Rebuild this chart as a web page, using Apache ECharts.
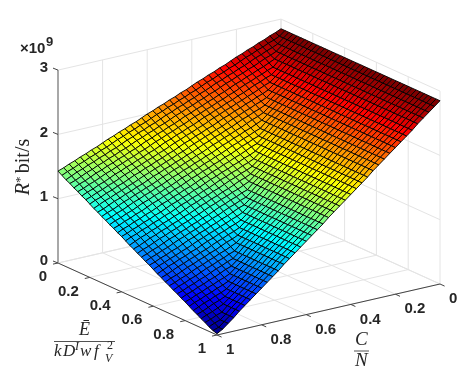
<!DOCTYPE html>
<html>
<head>
<meta charset="utf-8">
<style>html,body{margin:0;padding:0;background:#fff}#chart{width:463px;height:376px}</style>
<script src="https://cdn.jsdelivr.net/npm/echarts@6/dist/echarts.min.js"></script>
</head>
<body>
<div id="chart"></div>
<script>
// tick values and labels
const cTicks = [0, 0.2, 0.4, 0.6, 0.8, 1]
const eTicks = [0, 0.2, 0.4, 0.6, 0.8, 1]
const zTicks = [0, 1, 2, 3]

// R*, in units of 1e7 bit/s
// one row per E step (0..1 in 40 steps), one column per C/N step (0..1 in 40 steps)
const rateRows = [
[285,281,278,274,271,267,264,260,257,253,249,246,242,239,235,232,228,224,221,217,214,210,207,203,200,196,192,189,185,182,178,175,171,167,164,160,157,153,150,146,143],
[285,278,274,271,267,264,260,257,253,249,246,242,239,235,232,228,224,221,217,214,210,207,203,200,196,192,189,185,182,178,175,171,167,164,160,157,153,150,146,143,139],
[285,278,271,267,264,260,257,253,249,246,242,239,235,232,228,224,221,217,214,210,207,203,200,196,192,189,185,182,178,175,171,167,164,160,157,153,150,146,143,139,135],
[285,278,271,264,260,257,253,249,246,242,239,235,232,228,224,221,217,214,210,207,203,200,196,192,189,185,182,178,175,171,167,164,160,157,153,150,146,143,139,135,132],
[285,278,271,264,257,253,249,246,242,239,235,232,228,224,221,217,214,210,207,203,200,196,192,189,185,182,178,175,171,167,164,160,157,153,150,146,143,139,135,132,128],
[285,278,271,264,257,249,246,242,239,235,232,228,224,221,217,214,210,207,203,200,196,192,189,185,182,178,175,171,167,164,160,157,153,150,146,143,139,135,132,128,125],
[285,278,271,264,257,249,242,239,235,232,228,224,221,217,214,210,207,203,200,196,192,189,185,182,178,175,171,167,164,160,157,153,150,146,143,139,135,132,128,125,121],
[285,278,271,264,257,249,242,235,232,228,224,221,217,214,210,207,203,200,196,192,189,185,182,178,175,171,167,164,160,157,153,150,146,143,139,135,132,128,125,121,118],
[285,278,271,264,257,249,242,235,228,224,221,217,214,210,207,203,200,196,192,189,185,182,178,175,171,167,164,160,157,153,150,146,143,139,135,132,128,125,121,118,114],
[285,278,271,264,257,249,242,235,228,221,217,214,210,207,203,200,196,192,189,185,182,178,175,171,167,164,160,157,153,150,146,143,139,135,132,128,125,121,118,114,110],
[285,278,271,264,257,249,242,235,228,221,214,210,207,203,200,196,192,189,185,182,178,175,171,167,164,160,157,153,150,146,143,139,135,132,128,125,121,118,114,110,107],
[285,278,271,264,257,249,242,235,228,221,214,207,203,200,196,192,189,185,182,178,175,171,167,164,160,157,153,150,146,143,139,135,132,128,125,121,118,114,110,107,103],
[285,278,271,264,257,249,242,235,228,221,214,207,200,196,192,189,185,182,178,175,171,167,164,160,157,153,150,146,143,139,135,132,128,125,121,118,114,110,107,103,100],
[285,278,271,264,257,249,242,235,228,221,214,207,200,192,189,185,182,178,175,171,167,164,160,157,153,150,146,143,139,135,132,128,125,121,118,114,110,107,103,100,96],
[285,278,271,264,257,249,242,235,228,221,214,207,200,192,185,182,178,175,171,167,164,160,157,153,150,146,143,139,135,132,128,125,121,118,114,110,107,103,100,96,93],
[285,278,271,264,257,249,242,235,228,221,214,207,200,192,185,178,175,171,167,164,160,157,153,150,146,143,139,135,132,128,125,121,118,114,110,107,103,100,96,93,89],
[285,278,271,264,257,249,242,235,228,221,214,207,200,192,185,178,171,167,164,160,157,153,150,146,143,139,135,132,128,125,121,118,114,110,107,103,100,96,93,89,86],
[285,278,271,264,257,249,242,235,228,221,214,207,200,192,185,178,171,164,160,157,153,150,146,143,139,135,132,128,125,121,118,114,110,107,103,100,96,93,89,86,82],
[285,278,271,264,257,249,242,235,228,221,214,207,200,192,185,178,171,164,157,153,150,146,143,139,135,132,128,125,121,118,114,110,107,103,100,96,93,89,86,82,78],
[285,278,271,264,257,249,242,235,228,221,214,207,200,192,185,178,171,164,157,150,146,143,139,135,132,128,125,121,118,114,110,107,103,100,96,93,89,86,82,78,75],
[285,278,271,264,257,249,242,235,228,221,214,207,200,192,185,178,171,164,157,150,143,139,135,132,128,125,121,118,114,110,107,103,100,96,93,89,86,82,78,75,71],
[285,278,271,264,257,249,242,235,228,221,214,207,200,192,185,178,171,164,157,150,143,135,132,128,125,121,118,114,110,107,103,100,96,93,89,86,82,78,75,71,68],
[285,278,271,264,257,249,242,235,228,221,214,207,200,192,185,178,171,164,157,150,143,135,128,125,121,118,114,110,107,103,100,96,93,89,86,82,78,75,71,68,64],
[285,278,271,264,257,249,242,235,228,221,214,207,200,192,185,178,171,164,157,150,143,135,128,121,118,114,110,107,103,100,96,93,89,86,82,78,75,71,68,64,61],
[285,278,271,264,257,249,242,235,228,221,214,207,200,192,185,178,171,164,157,150,143,135,128,121,114,110,107,103,100,96,93,89,86,82,78,75,71,68,64,61,57],
[285,278,271,264,257,249,242,235,228,221,214,207,200,192,185,178,171,164,157,150,143,135,128,121,114,107,103,100,96,93,89,86,82,78,75,71,68,64,61,57,53],
[285,278,271,264,257,249,242,235,228,221,214,207,200,192,185,178,171,164,157,150,143,135,128,121,114,107,100,96,93,89,86,82,78,75,71,68,64,61,57,53,50],
[285,278,271,264,257,249,242,235,228,221,214,207,200,192,185,178,171,164,157,150,143,135,128,121,114,107,100,93,89,86,82,78,75,71,68,64,61,57,53,50,46],
[285,278,271,264,257,249,242,235,228,221,214,207,200,192,185,178,171,164,157,150,143,135,128,121,114,107,100,93,86,82,78,75,71,68,64,61,57,53,50,46,43],
[285,278,271,264,257,249,242,235,228,221,214,207,200,192,185,178,171,164,157,150,143,135,128,121,114,107,100,93,86,78,75,71,68,64,61,57,53,50,46,43,39],
[285,278,271,264,257,249,242,235,228,221,214,207,200,192,185,178,171,164,157,150,143,135,128,121,114,107,100,93,86,78,71,68,64,61,57,53,50,46,43,39,36],
[285,278,271,264,257,249,242,235,228,221,214,207,200,192,185,178,171,164,157,150,143,135,128,121,114,107,100,93,86,78,71,64,61,57,53,50,46,43,39,36,32],
[285,278,271,264,257,249,242,235,228,221,214,207,200,192,185,178,171,164,157,150,143,135,128,121,114,107,100,93,86,78,71,64,57,53,50,46,43,39,36,32,29],
[285,278,271,264,257,249,242,235,228,221,214,207,200,192,185,178,171,164,157,150,143,135,128,121,114,107,100,93,86,78,71,64,57,50,46,43,39,36,32,29,25],
[285,278,271,264,257,249,242,235,228,221,214,207,200,192,185,178,171,164,157,150,143,135,128,121,114,107,100,93,86,78,71,64,57,50,43,39,36,32,29,25,21],
[285,278,271,264,257,249,242,235,228,221,214,207,200,192,185,178,171,164,157,150,143,135,128,121,114,107,100,93,86,78,71,64,57,50,43,36,32,29,25,21,18],
[285,278,271,264,257,249,242,235,228,221,214,207,200,192,185,178,171,164,157,150,143,135,128,121,114,107,100,93,86,78,71,64,57,50,43,36,29,25,21,18,14],
[285,278,271,264,257,249,242,235,228,221,214,207,200,192,185,178,171,164,157,150,143,135,128,121,114,107,100,93,86,78,71,64,57,50,43,36,29,21,18,14,11],
[285,278,271,264,257,249,242,235,228,221,214,207,200,192,185,178,171,164,157,150,143,135,128,121,114,107,100,93,86,78,71,64,57,50,43,36,29,21,14,11,7],
[285,278,271,264,257,249,242,235,228,221,214,207,200,192,185,178,171,164,157,150,143,135,128,121,114,107,100,93,86,78,71,64,57,50,43,36,29,21,14,7,4],
[285,278,271,264,257,249,242,235,228,221,214,207,200,192,185,178,171,164,157,150,143,135,128,121,114,107,100,93,86,78,71,64,57,50,43,36,29,21,14,7,2]
]

const jet = ['#000080', '#0000ff', '#0080ff', '#00ffff', '#80ff80', '#ffff00', '#ff8000', '#ff0000', '#800000']

// view of the box: floor corners in the picture
const back = [281, 212]
const left = [58, 263]    // C=1, E=0
const right = [440, 284]  // C=0, E=1
const zPx = 64.3          // pixels per 1e9
const steps = rateRows.length - 1

// C, E in 0..1, z in 1e9
function project(c, e, z) {
  return [
    back[0] + c * (left[0] - back[0]) + e * (right[0] - back[0]),
    back[1] + c * (left[1] - back[1]) + e * (right[1] - back[1]) - z * zPx
  ]
}

const cells = []
for (let j = 0; j < steps; j++) {
  for (let i = 0; i < steps; i++) {
    cells.push([i, j, rateRows[j][i]])
  }
}

// wall and floor grid, each item is c1,e1,z1,c2,e2,z2
const gridSegs = []
cTicks.forEach(c => {
  gridSegs.push([c, 0, 0, c, 1, 0])
  gridSegs.push([c, 0, 0, c, 0, 3])
})
eTicks.forEach(e => {
  gridSegs.push([0, e, 0, 1, e, 0])
  gridSegs.push([0, e, 0, 0, e, 3])
})
zTicks.forEach(z => {
  gridSegs.push([1, 0, z, 0, 0, z])
  gridSegs.push([0, 0, z, 0, 1, z])
})

const axisSegs = [[1, 0, 0, 1, 1, 0], [1, 1, 0, 0, 1, 0]]

// ticks: c,e,z,dx,dy
const tickSegs = []
eTicks.forEach(e => tickSegs.push([1, e, 0, -5, 1.1]))
cTicks.forEach(c => tickSegs.push([c, 1, 0, 4.6, 2.1]))
zTicks.forEach(z => tickSegs.push([1, 0, z, -5, -2]))

const textColor = '#262626'
const tickFont = { fontFamily: 'Liberation Sans', fontSize: 15, fontWeight: 'bold', fill: textColor }

function label(text, x, y, align) {
  return { type: 'text', x, y, silent: true, style: Object.assign({ text, textAlign: align, textVerticalAlign: 'middle' }, tickFont) }
}
function math(text, x, y, size, italic) {
  return {
    type: 'text', x, y, silent: true,
    style: {
      text,
      fontFamily: 'Liberation Serif',
      fontSize: size,
      fontStyle: italic === false ? 'normal' : 'italic',
      fill: textColor,
      textAlign: 'left',
      textVerticalAlign: 'middle'
    }
  }
}
function tickText(v) { return String(v) }

const texts = []
eTicks.forEach(e => {
  const p = project(1, e, 0)
  texts.push(label(tickText(e), p[0] - 11, p[1] + 14, 'right'))
})
cTicks.forEach(c => {
  const p = project(c, 1, 0)
  texts.push(label(tickText(c), p[0] + 9, p[1] + 15, 'left'))
})
zTicks.forEach(z => {
  const p = project(1, 0, z)
  texts.push(label(tickText(z), p[0] - 10, p[1] - 2, 'right'))
})
texts.push(
  label('×10', 20, 49, 'left'),
  { type: 'text', x: 46, y: 42, silent: true, style: Object.assign({ text: '9', textAlign: 'left', textVerticalAlign: 'middle' }, tickFont, { fontSize: 13 }) },
  // z axis title
  {
    type: 'text', x: 24, y: 167, rotation: Math.PI / 2, silent: true,
    style: {
      text: '{r|R}{s|*} {t|bit/s}', textAlign: 'center', textVerticalAlign: 'middle',
      rich: {
        r: { fontFamily: 'Liberation Serif', fontStyle: 'italic', fontSize: 20, fill: textColor },
        s: { fontFamily: 'Liberation Serif', fontSize: 13, fill: textColor, verticalAlign: 'top' },
        t: { fontFamily: 'Liberation Serif', fontSize: 20, fill: textColor }
      }
    }
  },
  // E fraction
  math('Ē', 79, 330, 18),
  { type: 'line', silent: true, shape: { x1: 54, y1: 341.5, x2: 115, y2: 341.5 }, style: { stroke: textColor, lineWidth: 0.8 } },
  math('k', 54, 352, 17),
  math('D', 63, 352, 17),
  math('I', 75, 347, 12),
  math('w', 80, 352, 17),
  math('f', 94, 352, 17),
  math('2', 107, 346, 12, false),
  math('V', 105, 359, 12),
  // C/N fraction
  math('C', 355, 340, 19),
  { type: 'line', silent: true, shape: { x1: 354, y1: 351, x2: 369, y2: 351 }, style: { stroke: textColor, lineWidth: 0.8 } },
  math('N', 355, 361, 19)
)

function lineSeries(data, stroke, width, z) {
  return {
    type: 'custom',
    silent: true,
    animation: false,
    z,
    data,
    renderItem(params, api) {
      const a = project(api.value(0), api.value(1), api.value(2))
      const b = project(api.value(3), api.value(4), api.value(5))
      const p1 = api.coord(a)
      const p2 = api.coord(b)
      return { type: 'line', shape: { x1: p1[0], y1: p1[1], x2: p2[0], y2: p2[1] }, style: { stroke, lineWidth: width } }
    }
  }
}

const chart = echarts.init(document.getElementById('chart'), null, { renderer: 'canvas' })

chart.setOption({
  animation: false,
  backgroundColor: '#fff',
  grid: { left: 0, right: 0, top: 0, bottom: 0 },
  xAxis: { type: 'value', min: 0, max: 463, show: false },
  yAxis: { type: 'value', min: 0, max: 376, inverse: true, show: false },
  visualMap: {
    show: false,
    seriesIndex: 3,
    dimension: 2,
    min: 2,
    max: 285,
    inRange: { color: jet }
  },
  graphic: { elements: texts },
  series: [
    lineSeries(gridSegs, '#e4e4e4', 1, 1),
    lineSeries(axisSegs, '#444', 1, 2),
    lineSeries([[1, 0, 0, 1, 0, 3]], '#a8a8a8', 2, 2),
    {
      type: 'custom',
      silent: true,
      animation: false,
      progressive: 0,
      z: 4,
      data: cells,
      renderItem(params, api) {
        const i = api.value(0)
        const j = api.value(1)
        const corner = (a, b) => api.coord(project(a / steps, b / steps, rateRows[b][a] / 100))
        return {
          type: 'polygon',
          shape: { points: [corner(i, j), corner(i + 1, j), corner(i + 1, j + 1), corner(i, j + 1)] },
          style: { fill: api.visual('color'), stroke: '#000', lineWidth: 0.9 }
        }
      }
    },
    {
      type: 'custom',
      silent: true,
      animation: false,
      z: 3,
      data: tickSegs,
      renderItem(params, api) {
        const p = api.coord(project(api.value(0), api.value(1), api.value(2)))
        return { type: 'line', shape: { x1: p[0], y1: p[1], x2: p[0] + api.value(3), y2: p[1] + api.value(4) }, style: { stroke: '#444', lineWidth: 1 } }
      }
    }
  ]
})
</script>
</body>
</html>
